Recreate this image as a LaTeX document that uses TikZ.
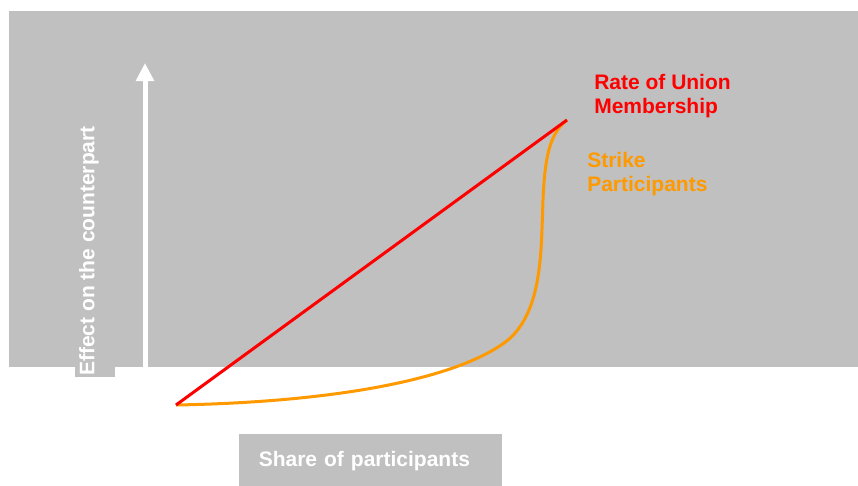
\documentclass[tikz,border=0pt]{standalone}
\usepackage{fontspec}
\setmainfont{Liberation Sans}
\usepackage{tikz}
\usetikzlibrary{arrows.meta}
\definecolor{panelgray}{RGB}{192, 192, 192}
\definecolor{unionred}{RGB}{255, 0, 0}
\definecolor{strikeorange}{RGB}{255, 153, 0}
\tikzstyle{axisarrow}=[line width=3.75pt, -{Triangle[length=13.5pt,width=13pt]}, color=white]
\tikzstyle{curvelabel}=[anchor=north west, align=left, inner sep=0pt, font=\bfseries\fontsize{15.75}{18}\selectfont]
\tikzstyle{axislabel}=[text=white, font=\bfseries\fontsize{15.75}{18}\selectfont]

\begin{document}
\begin{tikzpicture}[x=0.75pt, y=-0.75pt]
    \useasboundingbox (0,0) rectangle (858,486);

    % Background panel
    \fill[panelgray] (9,11) rectangle (858,367);
    \fill[panelgray] (75,300) rectangle (115,377);

    % Vertical axis
    \coordinate (yfoot) at (145,367);
    \coordinate (ytip) at (145,63);
    \draw[axisarrow] (yfoot) -- (ytip);
    \node[axislabel, rotate=90, inner sep=0pt] (ylabel) at (89,251) {Effect on the counterpart};

    % Horizontal axis label
    \node[axislabel, fill=panelgray, anchor=north west, minimum width=197.25pt, minimum height=39.75pt,
          inner xsep=14.5pt, text width=168pt, align=left] (xlabel) at (239,434) {Share of participants};

    % Curves
    \coordinate (origin) at (176,405);
    \coordinate (peak) at (567,120);
    \draw[line width=2.25pt, strikeorange] (origin)
        .. controls (340,402) and (460,378) .. (508,340)
        .. controls (543,310) and (541,250) .. (543,200)
        .. controls (545,150) and (552,132) .. (peak);
    \draw[line width=2.25pt, unionred] (origin) -- (peak);

    % Labels
    \node[curvelabel, text=unionred] (unionlabel) at (594,74) {Rate of Union\\Membership};
    \node[curvelabel, text=strikeorange] (strikelabel) at (587,152) {Strike\\Participants};

\end{tikzpicture}
\end{document}
